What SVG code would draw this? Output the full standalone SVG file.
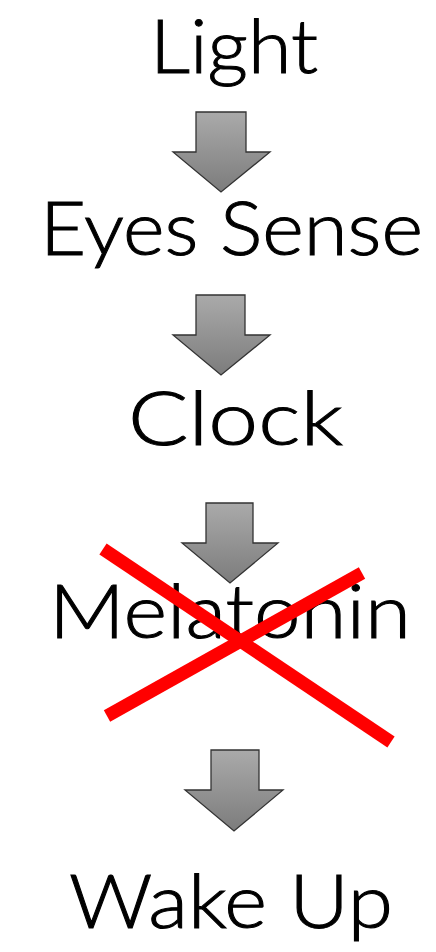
<svg xmlns="http://www.w3.org/2000/svg" width="436" height="952" viewBox="0 0 436 952">
<style>
.lbl{font-family:"Lato","DejaVu Sans",sans-serif;font-weight:300;font-size:74px;fill:#000;stroke:#000;stroke-width:1;text-anchor:middle}
.arr{fill:url(#g);stroke:#333;stroke-width:1.3}
.x{stroke:#ff0000;stroke-width:13;stroke-linecap:butt}
</style>
<defs>
<linearGradient id="g" x1="0" y1="0" x2="0" y2="1">
<stop offset="0" stop-color="#aaaaaa"/>
<stop offset="1" stop-color="#7c7c7c"/>
</linearGradient>
</defs>
<rect width="436" height="952" fill="#fff"/>
<g id="connectors">
<polygon class="arr" points="196,112 246,112 246,152 270,152 221,192 173,152 196,152"/>
<polygon class="arr" points="196,295 245,295 245,335 270,335 221,375 173,335 196,335"/>
<polygon class="arr" points="206,503 253,503 253,543 278,543 230,583 182,543 206,543"/>
<polygon class="arr" points="211,750 259,750 259,790 283,790 234,831 185,790 211,790"/>
</g>
<g id="light"><text class="lbl" x="234" y="73" textLength="168" lengthAdjust="spacingAndGlyphs">Light</text></g>
<g id="eyes"><text class="lbl" x="231.5" y="255" textLength="383" lengthAdjust="spacingAndGlyphs">Eyes Sense</text></g>
<g id="clock"><text class="lbl" x="235.5" y="445" textLength="215" lengthAdjust="spacingAndGlyphs">Clock</text></g>
<g id="melatonin"><text class="lbl" x="230" y="638" textLength="362" lengthAdjust="spacingAndGlyphs">Melatonin</text></g>
<g id="wake"><text class="lbl" x="231" y="928" textLength="324" lengthAdjust="spacingAndGlyphs">Wake Up</text></g>
<g id="cross">
<line class="x" x1="103" y1="549" x2="391" y2="742"/>
<line class="x" x1="107" y1="716" x2="362" y2="573"/>
</g>
</svg>
